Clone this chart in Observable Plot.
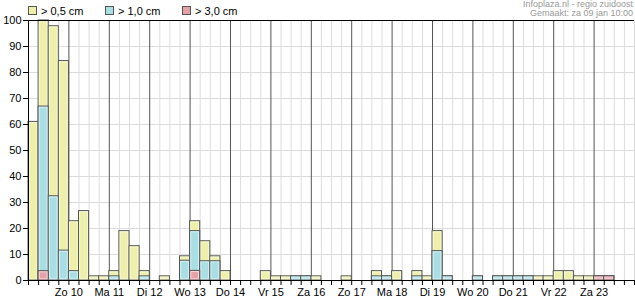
<!DOCTYPE html>
<html>
<head>
<meta charset="utf-8">
<script src="https://cdn.jsdelivr.net/npm/d3@7"></script>
<script src="https://cdn.jsdelivr.net/npm/@observablehq/plot@0.6"></script>
<style>
  body { margin: 0; background: #fff; }
  #wrap { position: relative; width: 635px; height: 300px; font-family: "Liberation Sans", Arial, sans-serif; }
  .leg { position: absolute; top: 6px; font-size: 11px; color: #000; line-height: 11px; white-space: nowrap; }
  .sw { display: inline-block; width: 7px; height: 7px; border: 1px solid #555; vertical-align: 0px; margin-right: 4px; }
  .credit { position: absolute; right: 2px; font-size: 9px; color: #999; line-height: 9px; white-space: nowrap; }
  svg { position: absolute; left: 0; top: 0; }
</style>
</head>
<body>
<div id="wrap"></div>
<script>
// Day labels placed at each midnight boundary (slot index 4, 8, ...)
const dayLabels = ["Zo 10","Ma 11","Di 12","Wo 13","Do 14","Vr 15","Za 16","Zo 17","Ma 18","Di 19","Wo 20","Do 21","Vr 22","Za 23"];
const seriesNames = ["> 0,5 cm", "> 1,0 cm", "> 3,0 cm"];
const seriesColors = ["#eef0aa", "#a8dee4", "#e6a2aa"];
// Probability (%) per 6-hour slot, 60 slots
const p05 = [61, 100, 97.8, 84.4, 22.8, 26.7, 1.6, 1.6, 3.6, 19, 13.2, 3.6,
             0, 1.6, 0, 9.3, 22.8, 15.1, 9.3, 3.6, 0, 0, 0, 3.6,
             1.6, 1.6, 1.6, 1.6, 1.6, 0, 0, 1.6, 0, 0, 3.6, 1.6,
             3.6, 0, 3.6, 1.6, 19, 1.6, 0, 0, 1.6, 0, 1.6, 1.6,
             1.6, 1.6, 1.6, 1.6, 3.6, 3.6, 1.6, 1.6, 1.6, 1.6, 0, 0];
const p10 = [0, 66.9, 32.4, 11.5, 3.6, 0, 0, 0, 1.6, 0, 0, 1.6,
             0, 0, 0, 7.6, 19, 7.4, 7.4, 0, 0, 0, 0, 0,
             0, 0, 1.6, 1.6, 0, 0, 0, 0, 0, 0, 1.6, 1.6,
             0, 0, 1.6, 0, 11.3, 1.6, 0, 0, 1.6, 0, 1.6, 1.6,
             1.6, 1.6, 0, 0, 0, 0, 0, 0, 1.6, 1.6, 0, 0];
const p30 = [0, 3.6, 0, 0, 0, 0, 0, 0, 0, 0, 0, 0,
             0, 0, 0, 0, 3.7, 0, 0, 0, 0, 0, 0, 0,
             0, 0, 0, 0, 0, 0, 0, 0, 0, 0, 0, 0,
             0, 0, 0, 0, 0, 0, 0, 0, 0, 0, 0, 0,
             0, 0, 0, 0, 0, 0, 0, 0, 1.6, 1.6, 0, 0];
const yTicks = [0,10,20,30,40,50,60,70,80,90,100];

const nSlots = p05.length;
const toRows = (arr) => arr.map((v, i) => ({i, v})).filter(d => d.v > 0);
const dayPos = dayLabels.map((d, k) => 4 + 4 * k);
const slotEdges = d3.range(0, nSlots + 1);

function bars(arr, color) {
  return [
    Plot.rectY(toRows(arr), {x1: "i", x2: d => d.i + 1, y1: 0, y2: "v", fill: color, stroke: "#555", strokeWidth: 1}),
    Plot.rectY(toRows(arr), {x1: "i", x2: d => d.i + 1, y1: 0, y2: "v", fill: "none", stroke: "#fff", strokeOpacity: 0.55, strokeWidth: 1, inset: 1.2})
  ];
}

const chart = Plot.plot({
  width: 635,
  height: 300,
  marginTop: 20,
  marginLeft: 28,
  marginRight: 1,
  marginBottom: 20,
  style: {fontFamily: "'Liberation Sans', Arial, sans-serif", fontSize: "11px", color: "#000", background: "#fff"},
  x: {domain: [0, nSlots], axis: null, label: null},
  y: {domain: [0, 100], axis: null, label: null},
  marks: [
    Plot.ruleY(yTicks.slice(1), {stroke: "#dcdcdc"}),
    Plot.ruleX(slotEdges.filter(e => e > 0 && !dayPos.includes(e)), {stroke: "#dcdcdc"}),
    Plot.ruleX(dayPos, {stroke: "#555"}),
    ...bars(p05, seriesColors[0]),
    ...bars(p10, seriesColors[1]),
    ...bars(p30, seriesColors[2]),
    Plot.axisY({ticks: yTicks, tickSize: 5, tickPadding: 2, fontSize: 11, stroke: "#000", label: null}),
    Plot.axisX({ticks: slotEdges, tickSize: 5, tickFormat: () => "", stroke: "#000", label: null}),
    Plot.axisX({ticks: dayPos, tickSize: 0, tickPadding: 8, tickFormat: (d) => dayLabels[(d - 4) / 4], fontSize: 11, label: null}),
    Plot.ruleX([0], {stroke: "#000"}),
    Plot.ruleY([0], {stroke: "#000"}),
    Plot.ruleY([100], {stroke: "#000"})
  ]
});

const wrap = document.getElementById("wrap");
wrap.appendChild(chart);

const legX = [28, 105, 182];
seriesNames.forEach((name, k) => {
  const el = document.createElement("div");
  el.className = "leg";
  el.style.left = legX[k] + "px";
  el.innerHTML = `<span class="sw" style="background:${seriesColors[k]}"></span>${name}`;
  wrap.appendChild(el);
});
const c1 = document.createElement("div");
c1.className = "credit"; c1.style.top = "0px"; c1.textContent = "Infoplaza.nl - regio zuidoost";
wrap.appendChild(c1);
const c2 = document.createElement("div");
c2.className = "credit"; c2.style.top = "9px"; c2.textContent = "Gemaakt: za 09 jan 10:00";
wrap.appendChild(c2);
</script>
</body>
</html>
